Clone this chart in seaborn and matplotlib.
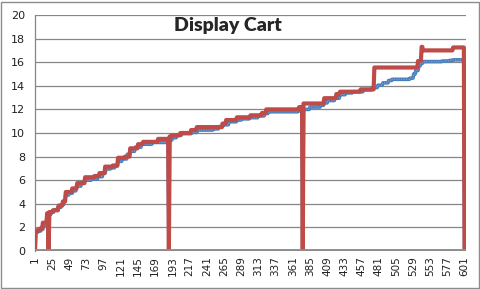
import numpy as np
import pandas as pd
import matplotlib
matplotlib.use("Agg")
import matplotlib.pyplot as plt
from matplotlib.patches import Rectangle
import seaborn as sns

# ---- data (run-length encoded: start category -> value) ----
n_points = 603
red_starts = [1, 2, 8, 12, 18, 20, 21, 26, 34, 40, 44, 53, 60, 71, 84, 91, 99, 110, 117, 127,
              134, 145, 152, 173, 188, 189, 192, 204, 219, 227, 263, 268, 283, 302, 318, 324, 370, 375, 376, 405,
              422, 427, 456, 475, 536, 541, 543, 585, 601]
red_vals = [0, 1.75, 1.9, 2.4, 3.2, 0, 3.3, 3.45, 3.85, 4.2, 5.0, 5.3, 5.75, 6.25, 6.35, 6.6, 7.15, 7.25, 7.9, 8.0,
            8.7, 9.05, 9.25, 9.5, 0, 9.7, 9.8, 10.0, 10.25, 10.5, 10.8, 11.1, 11.33, 11.5, 11.7, 12.0, 12.2, 0, 12.5, 12.95,
            13.3, 13.5, 13.7, 15.55, 16.1, 17.3, 17.0, 17.25, 0]

blue_starts = [1, 2, 6, 10, 13, 16, 18, 20, 21, 24, 28, 33, 38, 42, 44, 49, 54, 59, 66, 71,
               80, 89, 96, 100, 107, 113, 117, 123, 130, 134, 141, 150, 165, 185, 188, 189, 193, 199, 206, 220,
               228, 250, 258, 264, 272, 283, 290, 301, 313, 322, 327, 369, 375, 376, 385, 400, 405, 410, 420, 427,
               435, 445, 460, 472, 480, 487, 495, 500, 525, 530, 533, 537, 540, 543, 570, 580, 585, 601]
blue_vals = [0, 1.6, 1.7, 1.85, 2.2, 2.4, 3.0, 0, 3.1, 3.3, 3.5, 3.7, 3.95, 4.3, 4.75, 4.9, 5.1, 5.5, 5.8, 6.0,
             6.1, 6.3, 6.6, 6.95, 7.05, 7.2, 7.6, 7.8, 8.2, 8.45, 8.8, 9.05, 9.2, 9.3, 0, 9.4, 9.6, 9.8, 9.95, 10.05,
             10.25, 10.35, 10.55, 10.7, 10.95, 11.1, 11.2, 11.3, 11.45, 11.65, 11.8, 11.9, 0, 12.0, 12.2, 12.35, 12.55, 12.75, 12.95, 13.25,
             13.4, 13.5, 13.65, 13.85, 14.05, 14.25, 14.45, 14.55, 14.65, 15.0, 15.3, 15.7, 15.9, 16.05, 16.1, 16.15, 16.2, 0]

x_tick_labels = [str(v) for v in range(1, 602, 24)]
y_ticks = [0, 2, 4, 6, 8, 10, 12, 14, 16, 18, 20]
title = "Display Cart"


def expand(starts, vals):
    counts = np.diff(starts + [n_points + 1])
    return np.repeat(vals, counts)


cats = np.arange(1, n_points + 1)
df = pd.DataFrame({"cat": cats,
                   "blue": expand(blue_starts, blue_vals),
                   "red": expand(red_starts, red_vals)})

sns.set_style("white")
plt.rcParams["font.family"] = ["DejaVu Sans"]

fig = plt.figure(figsize=(4.81, 2.89), dpi=100)
ax = fig.add_axes([35 / 481, 1 - 251 / 289, (466 - 35) / 481, (251 - 15) / 289])

grid_c = "#868686"
for y in y_ticks[1:]:
    ax.axhline(y, color=grid_c, lw=0.9, zorder=0)

sns.lineplot(data=df, x="cat", y="blue", ax=ax, color="#4A7EBB", lw=2.6, zorder=2)
sns.lineplot(data=df, x="cat", y="blue", ax=ax, color="#7FA7D8", lw=0.8, ls=(0, (1, 1.2)), zorder=2.5)
sns.lineplot(data=df, x="cat", y="red", ax=ax, color="#BE4B48", lw=3.0, zorder=3)

ax.axhline(0, color="#8C8C8C", lw=3.5, zorder=4)

ax.set_xlim(1, n_points)
ax.set_ylim(0, 20)
ax.set_xticks(list(range(1, 602, 24)))
ax.set_xticklabels(x_tick_labels, rotation=90, fontsize=7.5, color="#202020")
ax.set_yticks(y_ticks)
ax.set_yticklabels([str(v) for v in y_ticks], fontsize=8, color="#202020")
ax.tick_params(axis="y", length=4, color=grid_c, width=0.9, pad=3)
ax.tick_params(axis="x", length=0, pad=4)
ax.set_xlabel("")
ax.set_ylabel("")
for s in ["top", "right", "bottom"]:
    ax.spines[s].set_visible(False)
ax.spines["left"].set_color(grid_c)
ax.spines["left"].set_linewidth(0.9)

fig.text(228 / 481, 1 - 25 / 289, title, ha="center", va="center",
         fontsize=14, fontweight="heavy", family=["Lato", "DejaVu Sans"])

fig.patches.append(Rectangle((0.002, 0.004), 0.994, 0.99, transform=fig.transFigure,
                             fill=False, edgecolor="#8C8C8C", lw=1))

fig.savefig("out.png", dpi=100, facecolor="white")
